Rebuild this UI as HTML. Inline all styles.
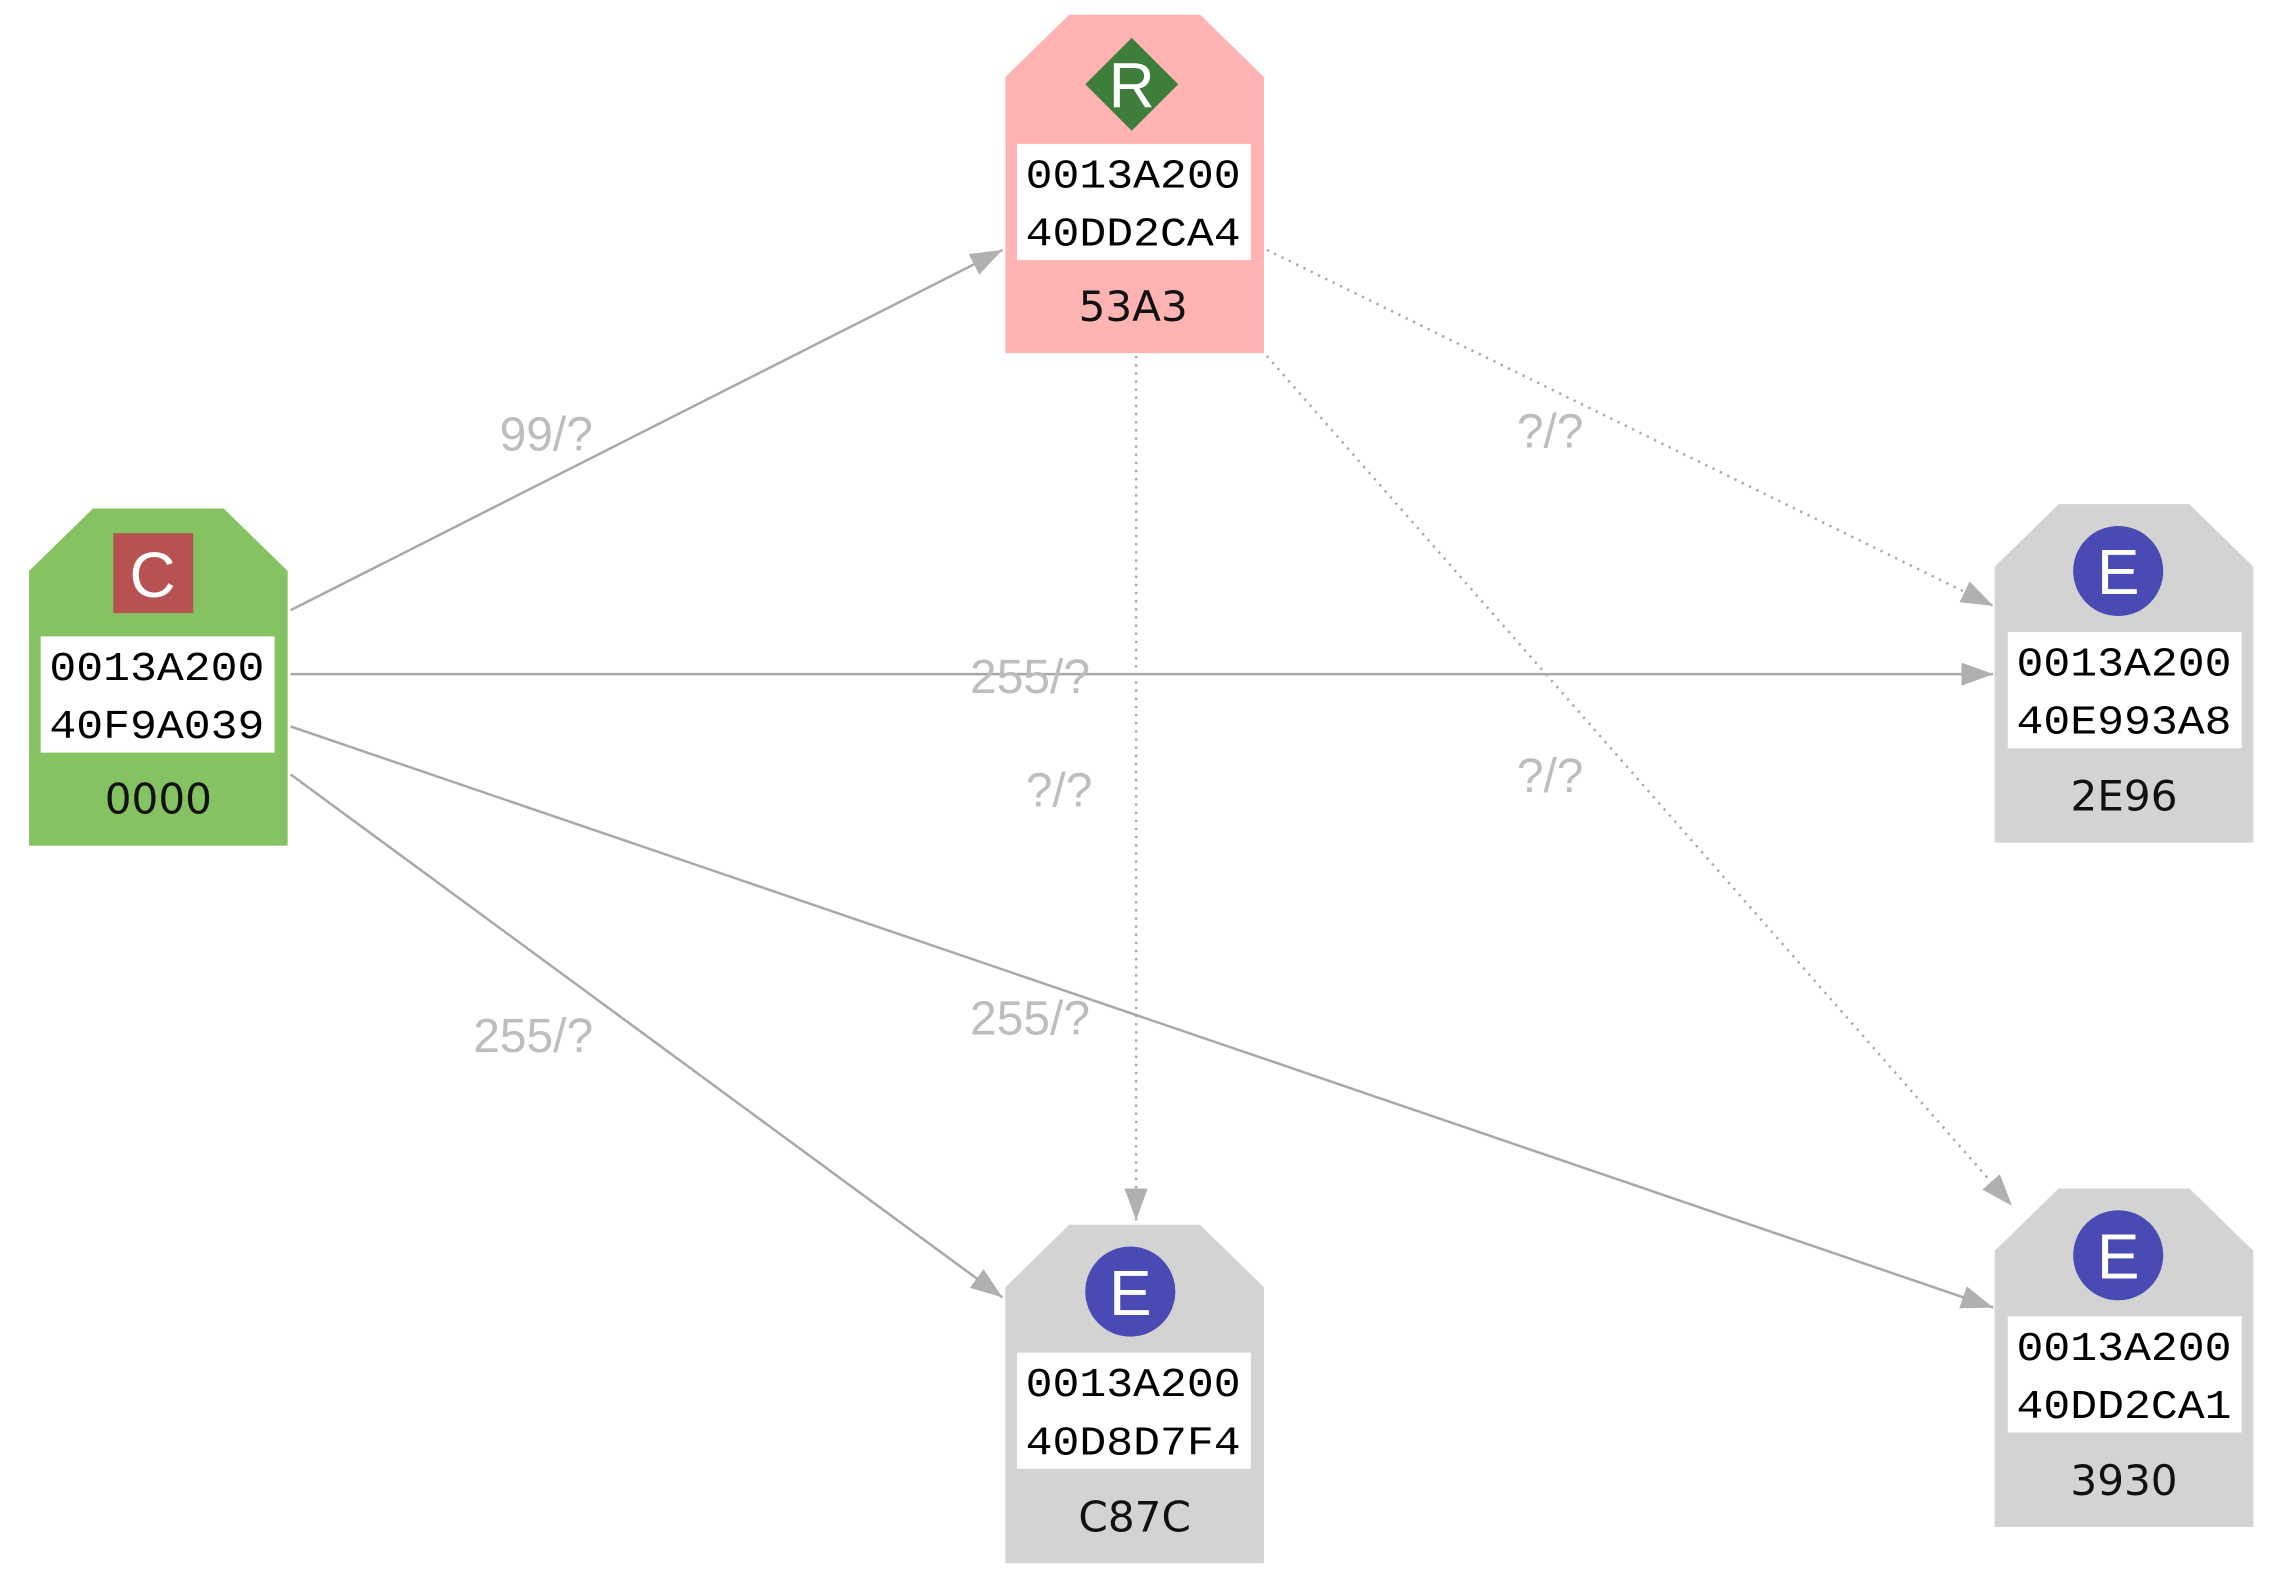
<!DOCTYPE html>
<html><head><meta charset="utf-8"><style>
html,body{margin:0;padding:0;background:#fff;}
svg{display:block;}
.lbl{font-family:"Liberation Sans",sans-serif;font-size:33px;fill:#bdbdbd;text-anchor:middle;}
.mono{font-family:"Liberation Mono",monospace;font-size:28px;fill:#000;text-anchor:middle;}
.id{font-family:"DejaVu Sans","Liberation Sans",sans-serif;font-size:29px;fill:#111;text-anchor:middle;}
.ic{font-family:"Liberation Sans",sans-serif;font-size:44px;fill:#fff;text-anchor:middle;}
</style></head><body>
<svg width="2278" height="1588" viewBox="0 0 1568 1093" xmlns="http://www.w3.org/2000/svg">
<defs>
<marker id="a" markerWidth="22" markerHeight="16" refX="22" refY="8" orient="auto" markerUnits="userSpaceOnUse">
<path d="M0,0 L22,8 L0,16 Z" fill="#b0b0b0"/></marker>
</defs>
<g stroke="#a8a8a8" stroke-width="1.7" fill="none">
<line x1="200" y1="420" x2="690" y2="172" marker-end="url(#a)"/>
<line x1="200" y1="464" x2="1372" y2="464" marker-end="url(#a)"/>
<line x1="200" y1="500" x2="1372" y2="900" marker-end="url(#a)"/>
<line x1="200" y1="533" x2="690" y2="893" marker-end="url(#a)"/>
<g stroke-dasharray="1.6 4">
<line x1="872" y1="172" x2="1372" y2="417" marker-end="url(#a)"/>
<line x1="782" y1="245" x2="782" y2="840" marker-end="url(#a)"/>
<line x1="872" y1="245" x2="1385" y2="830" marker-end="url(#a)"/>
</g></g>
<text class="lbl" x="376" y="310">99/?</text>
<text class="lbl" x="709" y="477">255/?</text>
<text class="lbl" x="709" y="712">255/?</text>
<text class="lbl" x="367" y="724">255/?</text>
<text class="lbl" x="1067" y="308">?/?</text>
<text class="lbl" x="729" y="555">?/?</text>
<text class="lbl" x="1067" y="545">?/?</text>

<path d="M64,350 L154,350 L198,393 L198,582 L20,582 L20,393 Z" fill="#85c262"/>
<rect x="78" y="367" width="55" height="55" fill="#b85252"/>
<text class="ic" x="105" y="411">C</text>
<rect x="28" y="438" width="161" height="80" fill="#fff"/>
<text class="mono" x="108" y="468" textLength="148" lengthAdjust="spacingAndGlyphs">0013A200</text>
<text class="mono" x="108" y="508" textLength="148" lengthAdjust="spacingAndGlyphs">40F9A039</text>
<text class="id" x="109" y="560">0000</text>

<path d="M736,10 L826,10 L870,53 L870,243 L692,243 L692,53 Z" fill="#ffb3b3"/>
<path d="M779,26 L811,58 L779,90 L747,58 Z" fill="#3f7d3a"/>
<text class="ic" x="779" y="74">R</text>
<rect x="700" y="99" width="161" height="80" fill="#fff"/>
<text class="mono" x="780" y="129" textLength="148" lengthAdjust="spacingAndGlyphs">0013A200</text>
<text class="mono" x="780" y="169" textLength="148" lengthAdjust="spacingAndGlyphs">40DD2CA4</text>
<text class="id" x="780" y="221">53A3</text>

<path d="M1417,347 L1507,347 L1551,390 L1551,580 L1373,580 L1373,390 Z" fill="#d3d3d3"/>
<circle cx="1458" cy="393" r="31" fill="#4a4ab4"/>
<text class="ic" x="1458" y="409">E</text>
<rect x="1382" y="435" width="161" height="80" fill="#fff"/>
<text class="mono" x="1462" y="465" textLength="148" lengthAdjust="spacingAndGlyphs">0013A200</text>
<text class="mono" x="1462" y="505" textLength="148" lengthAdjust="spacingAndGlyphs">40E993A8</text>
<text class="id" x="1462" y="558">2E96</text>

<path d="M736,843 L826,843 L870,886 L870,1076 L692,1076 L692,886 Z" fill="#d3d3d3"/>
<circle cx="778" cy="889" r="31" fill="#4a4ab4"/>
<text class="ic" x="778" y="905">E</text>
<rect x="700" y="931" width="161" height="80" fill="#fff"/>
<text class="mono" x="780" y="961" textLength="148" lengthAdjust="spacingAndGlyphs">0013A200</text>
<text class="mono" x="780" y="1001" textLength="148" lengthAdjust="spacingAndGlyphs">40D8D7F4</text>
<text class="id" x="781" y="1054">C87C</text>

<path d="M1417,818 L1507,818 L1551,861 L1551,1051 L1373,1051 L1373,861 Z" fill="#d3d3d3"/>
<circle cx="1458" cy="864" r="31" fill="#4a4ab4"/>
<text class="ic" x="1458" y="880">E</text>
<rect x="1382" y="906" width="161" height="80" fill="#fff"/>
<text class="mono" x="1462" y="936" textLength="148" lengthAdjust="spacingAndGlyphs">0013A200</text>
<text class="mono" x="1462" y="976" textLength="148" lengthAdjust="spacingAndGlyphs">40DD2CA1</text>
<text class="id" x="1462" y="1029">3930</text>
</svg>
</body></html>
